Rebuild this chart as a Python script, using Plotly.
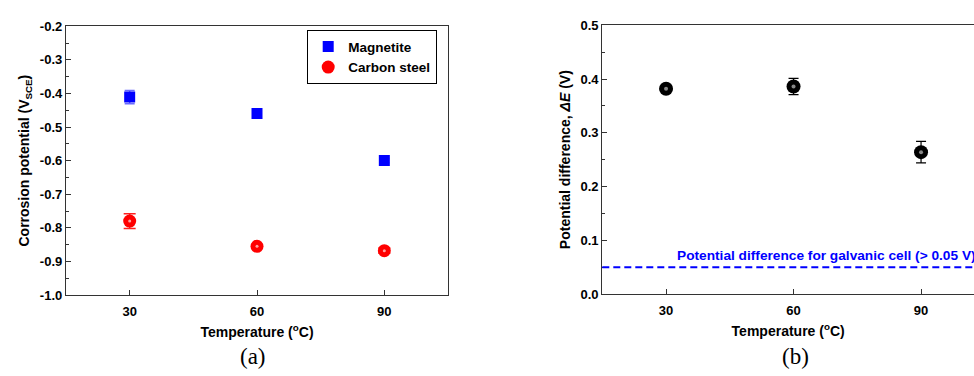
import plotly.graph_objects as go

# Temperatures (°C)
temperature = [30, 60, 90]

# (a) Corrosion potential, V vs SCE
magnetite_ecorr = [-0.411, -0.460, -0.600]
magnetite_err = [0.020, 0.006, 0.006]
steel_ecorr = [-0.780, -0.855, -0.868]
steel_err = [0.022, 0.005, 0.008]

# (b) Potential difference between magnetite and carbon steel, V
delta_e = [0.382, 0.386, 0.264]
delta_e_err = [0.005, 0.015, 0.020]
galvanic_threshold = 0.05

# tick values / labels
ecorr_ticks = [-1.0, -0.9, -0.8, -0.7, -0.6, -0.5, -0.4, -0.3, -0.2]
ecorr_ticklabels = ["-1.0", "-0.9", "-0.8", "-0.7", "-0.6", "-0.5", "-0.4", "-0.3", "-0.2"]
de_ticks = [0.0, 0.1, 0.2, 0.3, 0.4, 0.5]
de_ticklabels = ["0.0", "0.1", "0.2", "0.3", "0.4", "0.5"]

W, H = 974, 376
FAM = "Liberation Sans, Arial, sans-serif"
BOLD = dict(family=FAM, size=13, color="black", weight="bold")
AX = "#333333"

fig = go.Figure()

# ---- panel (a) ----
fig.add_trace(go.Scatter(
    x=temperature, y=magnetite_ecorr, mode="markers", name="Magnetite",
    marker=dict(symbol="square", size=11, color="#0000ff", line=dict(width=0)),
    error_y=dict(type="data", array=magnetite_err, color="#6a6aff", thickness=1.5, width=5),
    xaxis="x", yaxis="y"))
fig.add_trace(go.Scatter(
    x=temperature, y=steel_ecorr, mode="markers", name="Carbon steel",
    marker=dict(symbol="circle", size=13, color="#ff0000", line=dict(width=0)),
    error_y=dict(type="data", array=steel_err, color="#ff2020", thickness=1.5, width=6),
    xaxis="x", yaxis="y"))
# small specular highlight on the red spheres
fig.add_trace(go.Scatter(
    x=temperature, y=steel_ecorr, mode="markers", showlegend=False, hoverinfo="skip",
    marker=dict(symbol="circle", size=3, color="rgba(255,190,190,0.85)", line=dict(width=0)),
    xaxis="x", yaxis="y"))

# ---- panel (b) ----
fig.add_trace(go.Scatter(
    x=temperature, y=delta_e, mode="markers", showlegend=False,
    marker=dict(symbol="circle", size=14, color="#000000", line=dict(width=0)),
    error_y=dict(type="data", array=delta_e_err, color="#000000", thickness=1.2, width=5),
    xaxis="x2", yaxis="y2"))
fig.add_trace(go.Scatter(
    x=temperature, y=delta_e, mode="markers", showlegend=False, hoverinfo="skip",
    marker=dict(symbol="circle", size=4, color="rgba(150,150,150,0.9)", line=dict(width=0)),
    xaxis="x2", yaxis="y2"))

fig.add_shape(type="line", xref="x2 domain", yref="y2", x0=0, x1=1,
              y0=galvanic_threshold, y1=galvanic_threshold,
              line=dict(color="#0000ff", width=2, dash="7px,4px"))
fig.add_annotation(xref="paper", yref="y2", x=675 / W, y=galvanic_threshold,
                   xanchor="left", yanchor="bottom", yshift=2, showarrow=False,
                   text="Potential difference for galvanic cell (> 0.05 V)",
                   font=dict(family=FAM, size=13.7, color="#0000ff", weight="bold"))

# panel labels
SERIF = dict(family="Liberation Serif, DejaVu Serif, serif", size=23, color="black")
fig.add_annotation(xref="paper", yref="paper", x=253 / W, y=(H - 364) / H, text="(a)",
                   showarrow=False, xanchor="center", yanchor="middle", font=SERIF)
fig.add_annotation(xref="paper", yref="paper", x=795 / W, y=(H - 364) / H, text="(b)",
                   showarrow=False, xanchor="center", yanchor="middle", font=SERIF)

xcommon = dict(tickvals=temperature, ticks="inside", ticklen=5, tickwidth=1, tickcolor=AX,
               showline=True, linecolor=AX, linewidth=1.3, mirror=True,
               showgrid=False, zeroline=False, tickfont=BOLD, ticklabelstandoff=4,
               title=dict(text="Temperature (<sup>o</sup>C)", font=dict(BOLD, size=14), standoff=9))
ycommon = dict(ticks="inside", ticklen=5, tickwidth=1, tickcolor=AX,
               minor=dict(ticks="inside", ticklen=3, dtick=0.05, tickcolor=AX),
               showline=True, linecolor=AX, linewidth=1.3,
               showgrid=False, zeroline=False, tickfont=BOLD)

fig.update_layout(
    width=W, height=H, margin=dict(l=0, r=0, t=0, b=0),
    paper_bgcolor="white", plot_bgcolor="white",
    xaxis=dict(xcommon, domain=[66 / W, 448 / W], range=[15, 105], anchor="y"),
    yaxis=dict(ycommon, domain=[(H - 300) / H, (H - 20) / H], range=[-1.0, -0.2], anchor="x",
               tickvals=ecorr_ticks, ticktext=ecorr_ticklabels, mirror=True,
               title=dict(text="Corrosion potential (V<sub>SCE</sub>)", font=dict(BOLD, size=14), standoff=6)),
    xaxis2=dict(xcommon, domain=[602.3 / W, 1.0], range=[15, 15 + (W - 602.3) / 127.5 * 30], anchor="y2"),
    yaxis2=dict(ycommon, domain=[(H - 299) / H, (H - 19) / H], range=[0, 0.5], anchor="x2",
                tickvals=de_ticks, ticktext=de_ticklabels,
                title=dict(text="Potential difference, <i>ΔE</i> (V)", font=dict(BOLD, size=14), standoff=6)),
    legend=dict(x=437 / W, y=(H - 24) / H, xanchor="right", yanchor="top",
                bordercolor="black", borderwidth=1.2, bgcolor="white",
                font=dict(BOLD, size=13.5), tracegroupgap=0, itemwidth=30),
    showlegend=True,
)

fig.write_html("out.html")
